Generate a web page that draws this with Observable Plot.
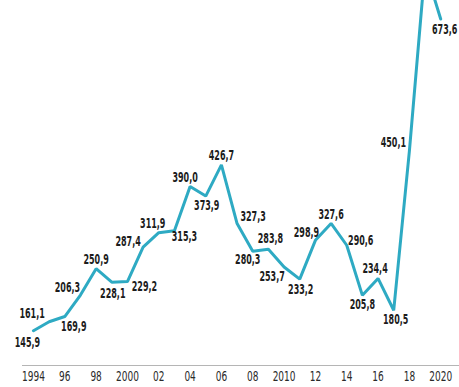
<!DOCTYPE html>
<html>
<head>
<meta charset="utf-8">
<script src="https://cdn.jsdelivr.net/npm/d3@7"></script>
<script src="https://cdn.jsdelivr.net/npm/@observablehq/plot@0.6"></script>
<style>
  html, body { margin: 0; padding: 0; background: #fff; overflow: hidden; }
  #chart svg { display: block; }
  #chart text { font-stretch: condensed; }
</style>
</head>
<body>
<div id="chart"></div>
<script>
const years = [1994,1995,1996,1997,1998,1999,2000,2001,2002,2003,2004,2005,2006,2007,2008,2009,2010,2011,2012,2013,2014,2015,2016,2017,2018,2019,2020];
const values = [145.9,161.1,169.9,206.3,250.9,228.1,229.2,287.4,311.9,315.3,390.0,373.9,426.7,327.3,280.3,283.8,253.7,233.2,298.9,327.6,290.6,205.8,234.4,180.5,450.1,760,673.6];
// which points carry a printed label (the 2019 peak is cut off in the original)
const labelled = years.map(y => y !== 2019);
const tickYears = [1994,1996,1998,2000,2002,2004,2006,2008,2010,2012,2014,2016,2018,2020];
const tickLabels = ["1994","96","98","2000","02","04","06","08","2010","12","14","16","18","2020"];

// label placement offsets (layout only)
const labelOffset = {
  1994:[-6,12],1995:[-17,-8],1996:[9,10],1997:[-13,-7],1998:[0,-9],1999:[1,12],
  2000:[17,5],2001:[-15,-5],2002:[-6,-9],2003:[10,6],2004:[-5,-9],2005:[1,10],
  2006:[0,-9],2007:[16,-7],2008:[-5,8],2009:[2,-11],2010:[-12,10],2011:[1,11],
  2012:[-9,-8],2013:[0,-9],2014:[14,-5],2015:[0,9],2016:[-3,-10],2017:[2,9],
  2018:[-16,-8],2020:[4,11]
};

const data = years.map((y, i) => ({year: y, value: values[i], show: labelled[i]}));
const fmt = v => v.toFixed(1).replace(".", ",");
const labelFont = '"DejaVu Sans Condensed", "DejaVu Sans", sans-serif';

const labelMarks = data.filter(d => d.show).map(d => Plot.text([d], {
  x: "year", y: "value", text: dd => fmt(dd.value),
  dx: labelOffset[d.year][0], dy: labelOffset[d.year][1],
  fill: "#1c1c1c", fontSize: 13.5, fontWeight: "bold", fontFamily: labelFont
}));

const plot = Plot.plot({
  width: 459,
  height: 387,
  marginLeft: 22,
  marginRight: 0,
  marginTop: 0,
  marginBottom: 22,
  style: {fontFamily: labelFont, background: "#fff", overflow: "hidden"},
  x: {domain: [1993.3, 2021.2], axis: null, label: null},
  y: {domain: [87, 705], axis: null},
  marks: [
    Plot.ruleY([87], {stroke: "#b5b5b5", strokeWidth: 1.2}),
    Plot.axisX({ticks: tickYears, tickFormat: d => tickLabels[tickYears.indexOf(d)], tickSize: 0, tickPadding: 6, fontSize: 13.5, fill: "#2a2a2a", fontFamily: labelFont, label: null}),
    Plot.line(data, {x: "year", y: "value", stroke: "#2eaac3", strokeWidth: 3, strokeLinejoin: "miter", clip: true}),
    ...labelMarks
  ]
});
document.getElementById("chart").appendChild(plot);

// narrow the glyphs to match the condensed typeface of the original
plot.querySelectorAll("text").forEach(el => {
  const bold = !!el.closest('[font-weight="bold"]');
  const k = bold ? 0.66 : 0.74;
  const len = el.getComputedTextLength();
  if (len > 0) {
    el.setAttribute("textLength", (len * k).toFixed(2));
    el.setAttribute("lengthAdjust", "spacingAndGlyphs");
  }
});
</script>
</body>
</html>
